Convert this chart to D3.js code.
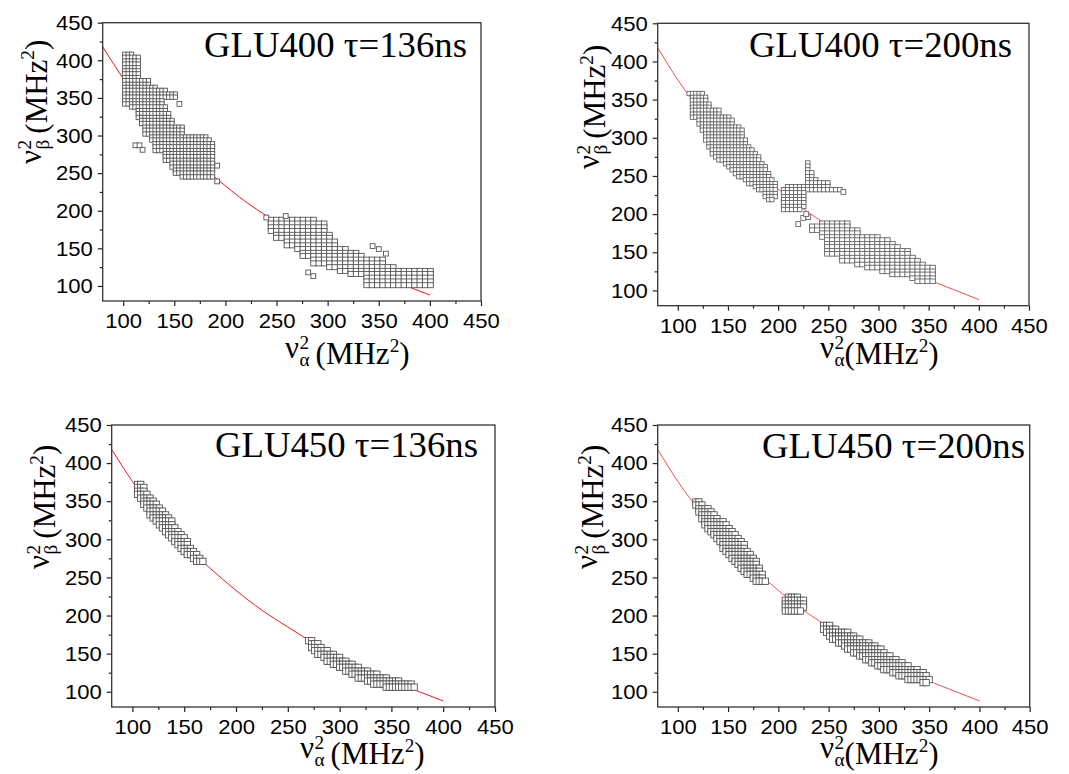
<!DOCTYPE html>
<html><head><meta charset="utf-8">
<script src="https://cdn.jsdelivr.net/npm/d3@7"></script>
<style>body{margin:0;background:#fff}svg{display:block}</style>
</head><body>
<svg id="chart" width="1069" height="774"></svg>
<script>
// ---------- data ----------
const majorTicks=[100,150,200,250,300,350,400,450];
const minorTicks=[125,175,225,275,325,375,425];
const curveX=[80,100,125,150,175,200,225,250,275,300,325,350,375,400];
const curveY=[418,376,332,294,262,233,207,185,164,146,129,114,101,88];
const titles=["GLU400 τ=136ns","GLU400 τ=200ns","GLU450 τ=136ns","GLU450 τ=200ns"];

// rows: [ν_β², first ν_α², last ν_α²]
const p1StepA=3.3;
const p1RowsA=[[408,101.6,109.7],[404,101.6,116.2],[399,101.6,116.2],[395,101.6,116.2],[390,101.6,116.2],[386,101.6,116.2],[382,101.6,116.2],[377,101.6,116.2],[373,101.6,123.4],[368,101.6,123.4],[364,101.6,130],[360,101.6,142],[355,101.6,150],[351,101.6,150],[346,101.6,137],[342,101.6,137],[338,109.6,140],[333,113.6,140],[329,113.6,145],[324,113.6,145],[320,119.6,149],[316,119.6,149],[311,122.6,157],[307,122.6,157],[302,122.6,157],[298,127.6,180],[294,127.6,183],[289,131.6,188],[285,131.6,188],[280,131.6,188],[276,139.6,188],[272,139.6,188],[267,139.6,188],[263,146.6,188],[258,146.6,188],[254,151.6,188],[250,151.6,188],[245,156.6,188]];
const p1StepB=5.2;
const p1RowsB=[[188,244.6,286.4],[183,244.6,297],[178,244.6,297],[173,244.6,297],[168,249.6,300],[164,249.6,300],[159,259,309],[154,259,309],[149,268.6,316],[144,277,327],[140,277,334],[135,288.6,356],[130,288.6,356],[125,303,364],[120,314.6,400.7],[116,324.4,400.7],[111,337.6,400.7],[106,340.6,402],[101,340.6,402]];
const p1Singles=[[155,342],[112,287],[116,287],[119,281],[192,260],[192,239],[240,191],[259,193],[281,118],[286,113],[344,153],[350,149],[357,143]];

const p2StepA=3.3;
const p2RowsA=[[358,111.3,123.2],[353,114.6,127.7],[349,114.6,127.7],[344,114.6,132],[340,114.6,132],[336,114.6,142],[331,114.6,142],[327,114.6,150],[323,120.6,155],[318,120.6,155],[314,125.6,160],[310,125.6,163],[305,127.2,165],[301,127.2,165],[297,127.2,167],[292,130,168],[288,132,172],[284,134,175],[279,136,178],[275,139,180],[271,142,182],[266,146,185],[262,150,187],[258,154,187],[253,158,190],[249,162,190],[245,166,193],[240,172,196],[236,176,198],[232,180,198],[227,186,198],[223,188,196],[219,190,194]];
const p2StepB=4;
const p2RowsB=[[267,229.5,229.5],[263,229.5,229.5],[258,229.5,229.5],[254,229.5,233.5],[249,229.5,233.5],[245,229.5,237.5],[241,229.5,249.5],[236,209.5,249.5],[232,205.5,261.5],[228,205.5,225.5],[223,205.5,225.5],[219,205.5,225.5],[215,205.5,225.5],[210,205.5,225.5],[206,205.5,221.5]];
const p2StepC=5;
const p2RowsC=[[188,244,269],[184,234,269],[179,234,279],[175,244,279],[170,244,299],[166,249,309],[161,249,314],[157,249,319],[152,249,329],[148,249,329],[143,264,334],[139,264,339],[134,279,344],[130,289,354],[125,304,354],[121,314,354],[116,334,354],[112,339,354]];
const p2Singles=[[265,229],[220,187],[225,195],[230,196],[228,200]];

const p3Step=3;
const p3RowsA=[[372,105,108],[368,105,111],[363,105,112],[359,105,114],[354,107,116],[350,110,120],[346,112,124],[341,114,127],[337,116,129],[332,118,131],[328,120,134],[324,123,137],[319,126,139],[315,128,141],[310,131,143],[306,134,146],[302,137,149],[297,140,152],[293,143,154],[288,147,156],[284,150,159],[280,154,162],[275,158,165],[271,163,168]];
const p3RowsB=[[167,270,273],[163,272,278],[158,274,283],[154,277,288],[149,280,293],[145,284,299],[140,289,305],[136,294,312],[132,299,319],[127,305,327],[123,311,336],[118,318,346],[114,326,357],[110,334,368],[106,345,373]];

const p4Step=3;
const p4RowsA=[[349,118,122],[345,118,125],[340,120,129],[336,121,132],[332,123,136],[327,124,140],[323,126,144],[319,128,148],[314,130,152],[310,132,155],[306,135,158],[301,138,161],[297,141,163],[293,144,165],[288,146,167],[284,148,169],[280,151,171],[275,154,174],[271,157,177],[267,160,179],[262,163,181],[258,166,182],[254,170,183],[249,174,185],[245,179,187]];
const p4RowsB=[[224,210,220],[220,206,224],[215,206,224],[211,206,224],[206,208,222]];
const p4RowsC=[[187,245,250],[182,246,258],[178,249,268],[173,252,276],[169,255,282],[164,259,289],[160,265,295],[156,270,301],[151,275,306],[147,281,312],[142,287,318],[138,293,324],[134,299,330],[129,306,337],[125,313,344],[121,320,348],[116,330,350],[112,343,347]];

// ---------- layout / style ----------
const SANS="'Liberation Sans', Arial, sans-serif";
const SERIF="'Liberation Serif','Times New Roman', serif";
const panels=[
 {l:102.7,r:481,t:22.7,b:301,tx:467,ty:57,xl:[285,364,6],yl:[46.7,164,6],
  blobs:[{rows:p1RowsA,step:p1StepA,w:4.3,h:4.3},{rows:p1RowsB,step:p1StepB,w:5.6,h:5}],singles:p1Singles,sw:4.8,stroke:"#555"},
 {l:657.7,r:1029,t:23.3,b:305.7,tx:1012,ty:57,xl:[820,364,0],yl:[605,169,6],
  blobs:[{rows:p2RowsA,step:p2StepA,w:4.3,h:4.3},{rows:p2RowsB,step:p2StepB,w:4.5,h:4.3},{rows:p2RowsC,step:p2StepC,w:5.4,h:4.6}],singles:p2Singles,sw:4.8,stroke:"#666"},
 {l:111.7,r:495,t:425,b:707,tx:478,ty:457,xl:[300,764,6],yl:[55,569,6],
  blobs:[{rows:p3RowsA,step:p3Step,w:6.3,h:6.3},{rows:p3RowsB,step:p3Step,w:6.3,h:6.3}],singles:[],sw:6,stroke:"#555"},
 {l:657.7,r:1029.7,t:425,b:707,tx:1025,ty:458,xl:[820,764,0],yl:[603,569,6],
  blobs:[{rows:p4RowsA,step:p4Step,w:6.3,h:6.3},{rows:p4RowsB,step:p4Step,w:6.3,h:6.3},{rows:p4RowsC,step:p4Step,w:6.3,h:6.3}],singles:[],sw:6,stroke:"#555"}
];
const subs=["α","β"];

function cellsFrom(rows,step){
  const org=rows[0][1], out=[];
  rows.forEach(([y,x0,x1])=>{
    const k0=Math.round((x0-org)/step), k1=Math.round((x1-org)/step);
    for(let k=k0;k<=k1;k++) out.push([org+k*step,y]);
  });
  return out;
}

const svg=d3.select("#chart");
svg.append("rect").attr("width",1069).attr("height",774).attr("fill","#fff");

function measure(str,fs){
  const t=svg.append("text").attr("font-family",SERIF).attr("font-size",fs).text(str);
  const w=t.node().getComputedTextLength(); t.remove(); return w;
}

// one text element: raised ν, superscript 2 stacked over subscript, then (MHz²)
function axisTitle(g,x,y,rotated,sub,fs,gap){
  const ss=fs*0.62, w2=measure("2",ss), ws=measure(sub,ss);
  const t=g.append("text").attr("transform",rotated?`translate(${x},${y}) rotate(-90)`:`translate(${x},${y})`)
    .attr("font-family",SERIF).attr("font-size",fs).attr("fill","#000");
  t.append("tspan").attr("dy",-fs*0.2).text("ν");
  t.append("tspan").attr("dx",0.5).attr("dy",-fs*0.3).attr("font-size",ss).text("2");
  t.append("tspan").attr("dx",-w2).attr("dy",fs*0.58).attr("font-size",ss).text(sub);
  t.append("tspan").attr("dx",Math.max(w2,ws)-ws+gap).attr("dy",-fs*0.08).text("(MHz");
  t.append("tspan").attr("dy",-fs*0.4).attr("font-size",ss).text("2");
  t.append("tspan").attr("dy",fs*0.4).text(")");
}

panels.forEach((p,i)=>{
  const g=svg.append("g");
  const x=d3.scaleLinear().domain([80,450]).range([p.l,p.r]);
  const y=d3.scaleLinear().domain([80,450]).range([p.b,p.t]);

  const line=d3.line().x(d=>x(d[0])).y(d=>y(d[1])).curve(d3.curveMonotoneX);
  g.append("path").datum(curveX.map((v,j)=>[v,curveY[j]])).attr("d",line)
    .attr("fill","none").attr("stroke",i===1||i===3?"#f05050":"#f01818").attr("stroke-width",1);

  p.blobs.forEach(bl=>{
    g.append("g").selectAll("rect").data(cellsFrom(bl.rows,bl.step)).join("rect")
      .attr("x",d=>x(d[0])-bl.w/2).attr("y",d=>y(d[1])-bl.h/2)
      .attr("width",bl.w).attr("height",bl.h)
      .attr("fill","#fff").attr("stroke",p.stroke).attr("stroke-width",0.9);
  });
  g.append("g").selectAll("rect").data(p.singles).join("rect")
    .attr("x",d=>x(d[0])-p.sw/2).attr("y",d=>y(d[1])-p.sw/2)
    .attr("width",p.sw).attr("height",p.sw)
    .attr("fill","#fff").attr("stroke",p.stroke).attr("stroke-width",0.9);

  const xa=g.append("g").attr("transform",`translate(0,${p.b})`)
    .call(d3.axisBottom(x).tickValues(majorTicks).tickSize(5).tickPadding(7).tickFormat(d3.format("d")));
  g.append("g").attr("transform",`translate(0,${p.b})`)
    .call(d3.axisBottom(x).tickValues(minorTicks).tickSize(3).tickFormat(""));
  const ya=g.append("g").attr("transform",`translate(${p.l},0)`)
    .call(d3.axisLeft(y).tickValues(majorTicks).tickSize(5).tickPadding(4.5).tickFormat(d3.format("d")));
  g.append("g").attr("transform",`translate(${p.l},0)`)
    .call(d3.axisLeft(y).tickValues(minorTicks).tickSize(3).tickFormat(""));
  g.selectAll(".domain").remove();
  g.selectAll(".tick line").attr("stroke","#222").attr("stroke-width",1.2);
  [xa,ya].forEach(a=>a.selectAll("text").attr("font-family",SANS).attr("font-size",21).attr("fill","#000").attr("transform","scale(1.05,1)"));

  g.append("rect").attr("x",p.l).attr("y",p.t).attr("width",p.r-p.l).attr("height",p.b-p.t)
    .attr("fill","none").attr("stroke","#333").attr("stroke-width",1.3);

  g.append("text").attr("transform",`translate(${p.tx},${p.ty}) scale(1.05,1)`).attr("text-anchor","end")
    .attr("font-family",SERIF).attr("font-size",35).attr("fill","#000").text(titles[i]);

  axisTitle(g,p.xl[0],p.xl[1],false,subs[0],31,p.xl[2]);
  axisTitle(g,p.yl[0],p.yl[1],true,subs[1],31,p.yl[2]);
});
</script>
</body></html>
